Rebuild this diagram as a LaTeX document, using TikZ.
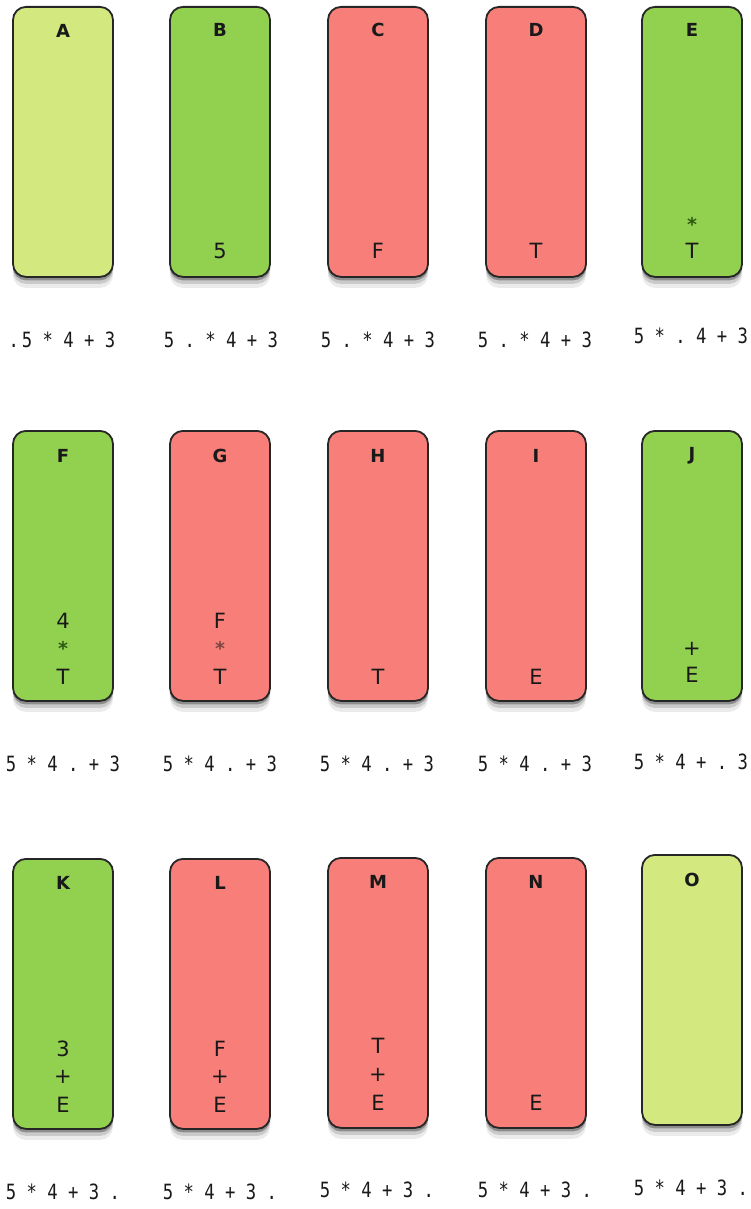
\documentclass[tikz,border=0pt]{standalone}
\usepackage{fontspec}
\setmainfont{DejaVu Sans}
\setmonofont{DejaVu Sans Mono}
\usetikzlibrary{shadows}
\definecolor{lime}{HTML}{D3E87F}
\definecolor{grn}{HTML}{92D050}
\definecolor{rd}{HTML}{F87F79}
\definecolor{gstar}{HTML}{2F5A12}
\definecolor{rstar}{HTML}{7A4644}
\newcommand{\xpr}[1]{\scalebox{0.82}[1]{#1}}
\tikzset{
  card/.style={draw=black!85, line width=1.8pt, rounded corners=13pt,
    minimum width=100pt, minimum height=270pt, anchor=north, inner sep=0pt,
    general shadow={fill=black, opacity=0.08, shadow xshift=0pt, shadow yshift=-11pt},
    general shadow={fill=black, opacity=0.14, shadow xshift=0pt, shadow yshift=-7pt},
    general shadow={fill=black, opacity=0.3, shadow xshift=0pt, shadow yshift=-3.5pt}},
  limecard/.style={card, fill=lime},
  grncard/.style={card, fill=grn},
  rdcard/.style={card, fill=rd},
  ttl/.style={font=\bfseries\fontsize{18}{18}\selectfont, inner sep=0pt, text=black!90},
  sym/.style={font=\fontsize{21}{21}\selectfont, inner sep=0pt, text=black!90},
  gst/.style={font=\bfseries\fontsize{19}{19}\selectfont, inner sep=0pt, text=gstar},
  rst/.style={font=\bfseries\fontsize{19}{19}\selectfont, inner sep=0pt, text=rstar},
  expr/.style={font=\ttfamily\fontsize{21}{21}\selectfont, inner sep=0pt, text=black!90},
}
\begin{document}
\begin{tikzpicture}[x=1pt,y=-1pt]
\useasboundingbox (0,0) rectangle (750,1209);
% ---------- row 1 (top 6) ----------
\node[limecard] (A) at (63,6) {};
\node[grncard]  (B) at (220,6) {};
\node[rdcard]   (C) at (378,6) {};
\node[rdcard]   (D) at (536,6) {};
\node[grncard]  (E) at (692,6) {};
\node[ttl] (A-t) at (63,31) {A};
\node[ttl] (B-t) at (220,30) {B};
\node[ttl] (C-t) at (378,30) {C};
\node[ttl] (D-t) at (536,30) {D};
\node[ttl] (E-t) at (692,30) {E};
\node[sym] (B-1) at (220,251) {5};
\node[sym] (C-1) at (378,251) {F};
\node[sym] (D-1) at (536,251) {T};
\node[gst] (E-2) at (692,224) {*};
\node[sym] (E-1) at (692,251) {T};
\node[expr] (A-e) at (62,340) {\xpr{.\,5 * 4 + 3}};
\node[expr] (B-e) at (221,340) {\xpr{5 . * 4 + 3}};
\node[expr] (C-e) at (378,340) {\xpr{5 . * 4 + 3}};
\node[expr] (D-e) at (535,340) {\xpr{5 . * 4 + 3}};
\node[expr] (E-e) at (691,336) {\xpr{5 * . 4 + 3}};
% ---------- row 2 (top 430) ----------
\node[grncard] (F) at (63,430) {};
\node[rdcard]  (G) at (220,430) {};
\node[rdcard]  (H) at (378,430) {};
\node[rdcard]  (I) at (536,430) {};
\node[grncard] (J) at (692,430) {};
\node[ttl] (F-t) at (63,456) {F};
\node[ttl] (G-t) at (220,456) {G};
\node[ttl] (H-t) at (378,456) {H};
\node[ttl] (I-t) at (536,456) {I};
\node[ttl] (J-t) at (692,456) {J};
\node[sym] (F-3) at (63,621) {4};
\node[gst] (F-2) at (63,648) {*};
\node[sym] (F-1) at (63,677) {T};
\node[sym] (G-3) at (220,621) {F};
\node[rst] (G-2) at (220,648) {*};
\node[sym] (G-1) at (220,677) {T};
\node[sym] (H-1) at (378,677) {T};
\node[sym] (I-1) at (536,677) {E};
\node[sym] (J-2) at (692,649) {+};
\node[sym] (J-1) at (692,675) {E};
\node[expr] (F-e) at (63,764) {\xpr{5 * 4 . + 3}};
\node[expr] (G-e) at (220,764) {\xpr{5 * 4 . + 3}};
\node[expr] (H-e) at (377,764) {\xpr{5 * 4 . + 3}};
\node[expr] (I-e) at (535,764) {\xpr{5 * 4 . + 3}};
\node[expr] (J-e) at (691,762) {\xpr{5 * 4 + . 3}};
% ---------- row 3 (top 857) ----------
\node[grncard]  (K) at (63,858) {};
\node[rdcard]   (L) at (220,858) {};
\node[rdcard]   (M) at (378,857) {};
\node[rdcard]   (N) at (536,857) {};
\node[limecard] (O) at (692,854) {};
\node[ttl] (K-t) at (63,883) {K};
\node[ttl] (L-t) at (220,883) {L};
\node[ttl] (M-t) at (378,882) {M};
\node[ttl] (N-t) at (536,882) {N};
\node[ttl] (O-t) at (692,880) {O};
\node[sym] (K-3) at (63,1049) {3};
\node[sym] (K-2) at (63,1077) {+};
\node[sym] (K-1) at (63,1105) {E};
\node[sym] (L-3) at (220,1049) {F};
\node[sym] (L-2) at (220,1077) {+};
\node[sym] (L-1) at (220,1105) {E};
\node[sym] (M-3) at (378,1046) {T};
\node[sym] (M-2) at (378,1075) {+};
\node[sym] (M-1) at (378,1103) {E};
\node[sym] (N-1) at (536,1103) {E};
\node[expr] (K-e) at (63,1192) {\xpr{5 * 4 + 3 .}};
\node[expr] (L-e) at (220,1192) {\xpr{5 * 4 + 3 .}};
\node[expr] (M-e) at (377,1190) {\xpr{5 * 4 + 3 .}};
\node[expr] (N-e) at (535,1190) {\xpr{5 * 4 + 3 .}};
\node[expr] (O-e) at (691,1188) {\xpr{5 * 4 + 3 .}};
\end{tikzpicture}
\end{document}
